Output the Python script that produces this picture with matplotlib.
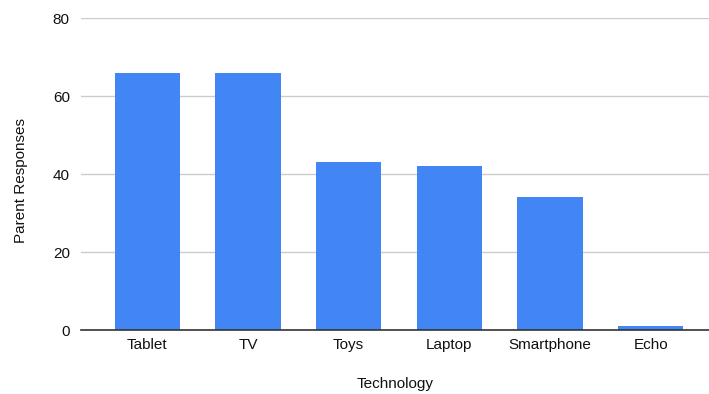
import matplotlib.pyplot as plt

plt.rcParams['font.family'] = ['Liberation Sans', 'DejaVu Sans']

categories = ['Tablet', 'TV', 'Toys', 'Laptop', 'Smartphone', 'Echo']
responses = [66, 66, 43, 42, 34, 1]
y_ticks = [0, 20, 40, 60, 80]

BAR_COLOR = '#4285F4'
GRID_COLOR = '#cccccc'
TEXT_COLOR = '#111111'
FONTSIZE = 11

fig = plt.figure(figsize=(7.09, 3.94), dpi=100)
ax = fig.add_axes([0.1142, 0.1624, 0.8858, 0.7919])

x = range(len(categories))
ax.bar(x, responses, width=0.65, color=BAR_COLOR, zorder=3)

ax.set_xlim(-0.66, 5.58)
ax.set_ylim(0, 80)
ax.set_yticks(y_ticks)
ax.set_xticks(list(x))
ax.set_xticklabels(categories)

# Google Sheets look: light horizontal grid, dark baseline only
ax.grid(axis='y', color=GRID_COLOR, linewidth=1, zorder=0)
for side in ['top', 'right', 'left']:
    ax.spines[side].set_visible(False)
ax.spines['bottom'].set_color('#333333')
ax.spines['bottom'].set_linewidth(1.2)
ax.spines['bottom'].set_zorder(4)
ax.tick_params(axis='both', length=0, labelsize=FONTSIZE, colors=TEXT_COLOR)
ax.tick_params(axis='y', pad=8)
ax.tick_params(axis='x', pad=6)

ax.set_xlabel('Technology', fontsize=FONTSIZE, color=TEXT_COLOR, labelpad=18)
ax.set_ylabel('Parent Responses', fontsize=FONTSIZE, color=TEXT_COLOR,
              labelpad=18, y=0.478)

fig.savefig('out.png', dpi=100)
